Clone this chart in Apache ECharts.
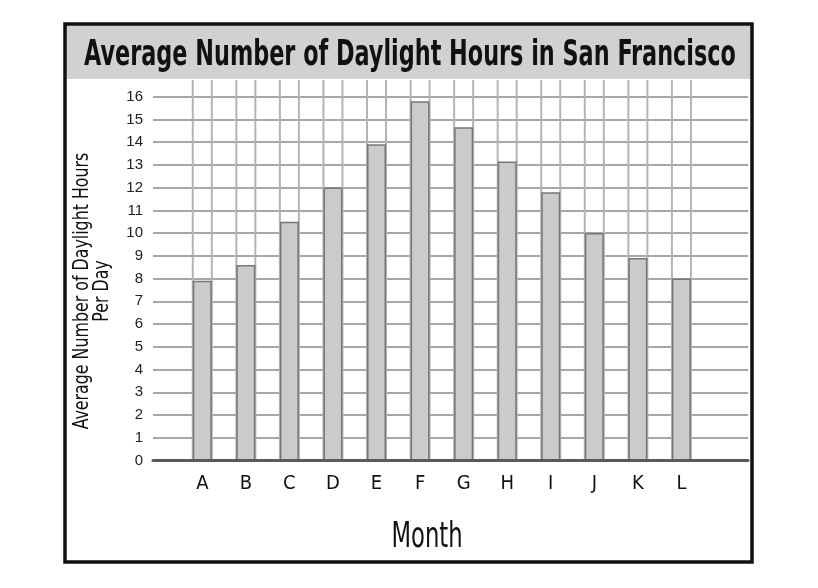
<!DOCTYPE html>
<html>
<head>
<meta charset="utf-8">
<script src="https://cdn.jsdelivr.net/npm/echarts@6/dist/echarts.min.js"></script>
<style>
html,body{margin:0;padding:0;background:#fff;}
#chart{width:818px;height:588px;}
</style>
</head>
<body>
<div id="chart"></div>
<script>
const chartTitle = 'Average Number of Daylight Hours in San Francisco';
const yAxisTitle = 'Average Number of Daylight Hours\nPer Day';
const xAxisTitle = 'Month';
const categories = ['A', 'B', 'C', 'D', 'E', 'F', 'G', 'H', 'I', 'J', 'K', 'L'];
const hours = [7.9, 8.6, 10.5, 12.0, 13.9, 15.8, 14.65, 13.15, 11.8, 10.0, 8.9, 8.0];
const yMin = 0, yMax = 16, yStep = 1;

const narrow = "'DejaVu Sans Condensed', 'DejaVu Sans', sans-serif";
const BAR_W = 19;
const chart = echarts.init(document.getElementById('chart'), null, {renderer: 'canvas'});

chart.setOption({
  animation: false,
  backgroundColor: '#ffffff',
  graphic: [
    {type: 'rect', z: -10, shape: {x: 65, y: 24, width: 687, height: 55}, style: {fill: '#d1d1d1'}},
    {type: 'rect', z: 100, shape: {x: 65, y: 24, width: 687, height: 538}, style: {fill: 'none', stroke: '#111', lineWidth: 3.5}},
    {type: 'text', z: 50, x: 410, y: 56, scaleX: 0.69,
      style: {text: chartTitle, fontFamily: narrow, fontWeight: 'bold', fontSize: 36, fill: '#111', align: 'center', verticalAlign: 'middle'}},
    {type: 'text', z: 50, x: 92, y: 291, rotation: Math.PI / 2, scaleX: 0.8,
      style: {text: yAxisTitle, fontFamily: narrow, fontSize: 22, lineHeight: 20, fill: '#111', align: 'center', verticalAlign: 'middle'}},
    {type: 'text', z: 50, x: 427, y: 538, scaleX: 0.72,
      style: {text: xAxisTitle, fontFamily: narrow, fontSize: 35, fill: '#111', align: 'center', verticalAlign: 'middle'}}
  ],
  grid: [
    {left: 153, right: 70, top: 96.7, bottom: 127.5},
    {left: 180.5, right: 114.8, top: 80, bottom: 127.5}
  ],
  xAxis: [
    {gridIndex: 0, type: 'value', min: 0, max: 1, axisLabel: {show: false}, axisTick: {show: false},
      splitLine: {show: false}, axisLine: {show: true, onZero: false, lineStyle: {color: '#5a5a5a', width: 3}}, z: 5},
    {gridIndex: 1, type: 'category', data: categories, axisLine: {show: false}, axisTick: {show: false},
      axisLabel: {margin: 13, fontFamily: narrow, fontSize: 20, color: '#111'}}
  ],
  yAxis: [
    {gridIndex: 0, type: 'value', min: yMin, max: yMax, interval: yStep,
      axisLine: {show: false}, axisTick: {show: false},
      axisLabel: {margin: 10, fontFamily: "'Liberation Sans', Arial, sans-serif", fontSize: 15, color: '#222'},
      splitLine: {show: true, lineStyle: {color: '#8a8a8a', width: 1.6}}},
    {gridIndex: 1, type: 'value', min: 0, max: 16.73, show: false, splitLine: {show: false}}
  ],
  series: [
    {
      type: 'custom', xAxisIndex: 1, yAxisIndex: 1, z: 1, silent: true,
      data: categories.map((c, i) => [i]),
      renderItem: function (params, api) {
        const cs = params.coordSys;
        const cx = api.coord([api.value(0), 0])[0];
        const mk = (x) => ({type: 'line', shape: {x1: x, y1: cs.y, x2: x, y2: cs.y + cs.height},
          style: {stroke: '#b4b4b4', lineWidth: 2}});
        return {type: 'group', children: [mk(cx - BAR_W / 2), mk(cx + BAR_W / 2)]};
      }
    },
    {
      type: 'bar', xAxisIndex: 1, yAxisIndex: 1, z: 3,
      data: hours, barWidth: BAR_W,
      itemStyle: {color: '#cbcbcb', borderColor: '#777', borderWidth: 1.5}
    }
  ]
});
</script>
</body>
</html>
